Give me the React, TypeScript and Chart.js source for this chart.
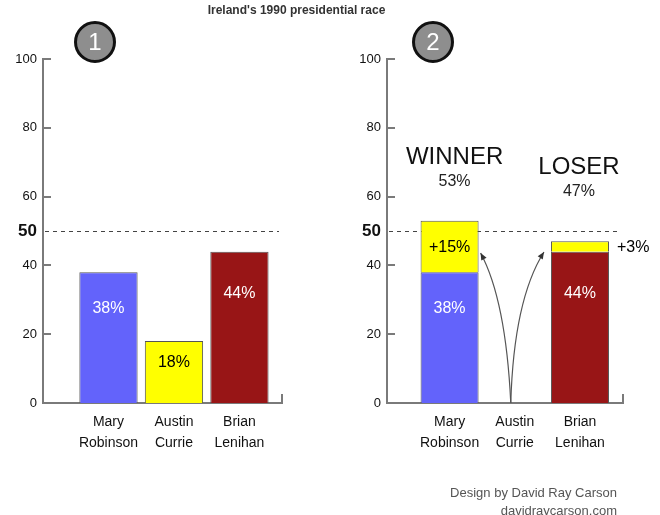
import React, { useEffect, useRef } from 'react';
import { Chart, registerables } from 'chart.js';

Chart.register(...registerables);

const candidates = ['Mary Robinson', 'Austin Currie', 'Brian Lenihan'];
const firstPreference = [38, 18, 44];
const finalBase = [38, null, 44];
const transferred = [15, null, 3];
const finalTotals = [53, null, 47];
const outcomeLabels = ['WINNER', null, 'LOSER'];
const yTicks = [0, 20, 40, 50, 60, 80, 100];
const threshold = 50;
const titleText = "Ireland's 1990 presidential race";
const creditLines = ['Design by David Ray Carson', 'davidraycarson.com'];

const BLUE = '#6363fb';
const YELLOW = '#ffff00';
const RED = '#981516';
const AXIS = '#7a7a7a';
const INK = '#111';
const FONT = '"Liberation Sans", Arial, Helvetica, sans-serif';
const barColors = [BLUE, YELLOW, RED];

function makeScales(xmin: number, xmax: number, stacked: boolean) {
  return {
    x: {
      type: 'linear' as const,
      min: xmin,
      max: xmax,
      offset: false,
      stacked,
      grid: { display: false, drawTicks: false, offset: false },
      border: { display: true, color: AXIS, width: 2 },
      afterBuildTicks: (s: any) => {
        s.ticks = candidates.map((_, i) => ({ value: i + 1 }));
      },
      ticks: {
        autoSkip: false,
        maxRotation: 0,
        padding: 9,
        color: INK,
        font: { family: FONT, size: 14, lineHeight: 1.5 },
        callback: (v: any) => {
          const name = candidates[Math.round(v) - 1];
          return name ? name.split(' ') : '';
        },
      },
      afterFit: (s: any) => {
        s.height = 112;
      },
    },
    y: {
      type: 'linear' as const,
      min: 0,
      max: 100,
      stacked,
      grid: { display: false, drawTicks: false },
      border: { display: true, color: AXIS, width: 2 },
      afterBuildTicks: (s: any) => {
        s.ticks = yTicks.map((v) => ({ value: v }));
      },
      ticks: {
        padding: 6,
        color: INK,
        font: (ctx: any) =>
          ctx.tick && ctx.tick.value === threshold
            ? { family: FONT, size: 17, weight: 'bold' }
            : { family: FONT, size: 13 },
      },
      afterFit: (s: any) => {
        s.width = 43;
      },
    },
  };
}

function drawFrame(chart: any) {
  const { ctx, chartArea, scales } = chart;
  const y = scales.y;
  ctx.save();
  ctx.strokeStyle = AXIS;
  ctx.lineWidth = 2;
  yTicks.forEach((v) => {
    if (v === 0 || v === threshold) return;
    const py = Math.round(y.getPixelForValue(v));
    ctx.beginPath();
    ctx.moveTo(chartArea.left - 1, py);
    ctx.lineTo(chartArea.left + 8, py);
    ctx.stroke();
  });
  ctx.beginPath();
  ctx.moveTo(chartArea.right, chartArea.bottom + 1);
  ctx.lineTo(chartArea.right, chartArea.bottom - 9);
  ctx.stroke();
  const py = Math.round(y.getPixelForValue(threshold)) + 0.5;
  ctx.strokeStyle = '#444';
  ctx.lineWidth = 1;
  ctx.setLineDash([4, 4]);
  ctx.beginPath();
  ctx.moveTo(chartArea.left + 2, py);
  ctx.lineTo(chartArea.right - 3, py);
  ctx.stroke();
  ctx.restore();
}

function text(ctx: any, s: string, x: number, y: number, size: number, color: string, align: string = 'center') {
  ctx.font = `${size}px ${FONT}`;
  ctx.fillStyle = color;
  ctx.textAlign = align;
  ctx.textBaseline = 'middle';
  ctx.fillText(s, x, y);
}

function arrow(ctx: any, p0: number[], c: number[], p2: number[]) {
  ctx.beginPath();
  ctx.moveTo(p0[0], p0[1]);
  ctx.quadraticCurveTo(c[0], c[1], p2[0], p2[1]);
  ctx.stroke();
  const ang = Math.atan2(p2[1] - c[1], p2[0] - c[0]);
  const len = 7;
  const w = 3;
  ctx.beginPath();
  ctx.moveTo(p2[0], p2[1]);
  ctx.lineTo(p2[0] - len * Math.cos(ang) + w * Math.sin(ang), p2[1] - len * Math.sin(ang) - w * Math.cos(ang));
  ctx.lineTo(p2[0] - len * Math.cos(ang) - w * Math.sin(ang), p2[1] - len * Math.sin(ang) + w * Math.cos(ang));
  ctx.closePath();
  ctx.fill();
}

// inside-bar label sits a bit below the bar top, deeper for taller bars
function insideLabelPixel(y: any, v: number) {
  const top = y.getPixelForValue(v);
  return top + Math.max(22, (y.getPixelForValue(0) - top) * 0.28);
}

const firstPlugin = {
  id: 'firstAnnotations',
  beforeDatasetsDraw: (chart: any) => drawFrame(chart),
  afterDatasetsDraw: (chart: any) => {
    const { ctx, scales } = chart;
    const meta = chart.getDatasetMeta(0);
    ctx.save();
    meta.data.forEach((bar: any, i: number) => {
      const v = firstPreference[i];
      text(ctx, `${v}%`, bar.x, insideLabelPixel(scales.y, v), 16, barColors[i] === YELLOW ? '#000' : '#fff');
    });
    ctx.restore();
  },
};

const finalPlugin = {
  id: 'finalAnnotations',
  beforeDatasetsDraw: (chart: any) => drawFrame(chart),
  afterDatasetsDraw: (chart: any) => {
    const { ctx, scales } = chart;
    const y = scales.y;
    const x = scales.x;
    const baseMeta = chart.getDatasetMeta(0);
    const addMeta = chart.getDatasetMeta(1);
    ctx.save();
    baseMeta.data.forEach((bar: any, i: number) => {
      const v = finalBase[i];
      if (v == null) return;
      text(ctx, `${v}%`, bar.x, insideLabelPixel(y, v), 16, '#fff');
    });
    addMeta.data.forEach((bar: any, i: number) => {
      const v = transferred[i];
      if (v == null) return;
      const mid = (bar.y + bar.base) / 2;
      if (Math.abs(bar.base - bar.y) > 24) {
        text(ctx, `+${v}%`, bar.x, mid + 1, 16, '#000');
      } else {
        text(ctx, `+${v}%`, bar.x + bar.width / 2 + 8, mid + 1, 16, '#000', 'left');
      }
    });
    outcomeLabels.forEach((lab, i) => {
      if (!lab) return;
      const bar = baseMeta.data[i];
      const level = i === 0 ? 71.4 : 68.5;
      const cx = bar.x + (i === 0 ? 5 : -1);
      const cy = y.getPixelForValue(level);
      text(ctx, lab, cx, cy, 24, '#111');
      text(ctx, `${finalTotals[i]}%`, cx, cy + 24.5, 16, '#222');
    });
    const bx = x.getPixelForValue(2) - 4;
    const by = y.getPixelForValue(0);
    const left = addMeta.data[0];
    const right = addMeta.data[2];
    ctx.strokeStyle = '#555';
    ctx.fillStyle = '#333';
    ctx.lineWidth = 1.2;
    arrow(ctx, [bx, by], [bx - 5, y.getPixelForValue(30)], [left.x + left.width / 2 + 2, y.getPixelForValue(43.6)]);
    arrow(ctx, [bx, by], [bx + 3, y.getPixelForValue(30)], [right.x - right.width / 2 - 7, y.getPixelForValue(43.9)]);
    ctx.restore();
  },
};

const barStyle = {
  borderColor: '#555',
  borderWidth: 1,
  categoryPercentage: 1,
  barPercentage: 0.89,
};

export default function App() {
  const ref1 = useRef<HTMLCanvasElement>(null);
  const ref2 = useRef<HTMLCanvasElement>(null);

  useEffect(() => {
    const common = {
      responsive: false,
      animation: false as const,
      events: [] as any[],
      plugins: { legend: { display: false }, tooltip: { enabled: false } },
    };
    const c1 = new Chart(ref1.current as HTMLCanvasElement, {
      type: 'bar',
      data: {
        datasets: [
          {
            data: firstPreference.map((v, i) => ({ x: i + 1, y: v })),
            backgroundColor: barColors,
            ...barStyle,
          } as any,
        ],
      },
      options: {
        ...common,
        layout: { padding: { left: 0, top: 59, right: 378, bottom: 0 } },
        scales: makeScales(0, 3.65, false) as any,
      },
      plugins: [firstPlugin],
    });
    const c2 = new Chart(ref2.current as HTMLCanvasElement, {
      type: 'bar',
      data: {
        datasets: [
          {
            data: finalBase.map((v, i) => ({ x: i + 1, y: v })),
            backgroundColor: [BLUE, 'rgba(0,0,0,0)', RED],
            ...barStyle,
          } as any,
          {
            data: transferred.map((v, i) => ({ x: i + 1, y: v })),
            backgroundColor: YELLOW,
            ...barStyle,
          } as any,
        ],
      },
      options: {
        ...common,
        layout: { padding: { left: 344, top: 59, right: 37, bottom: 0 } },
        scales: makeScales(0.04, 3.66, true) as any,
      },
      plugins: [finalPlugin],
    });
    return () => {
      c1.destroy();
      c2.destroy();
    };
  }, []);

  const circle = (n: string, cx: number) => (
    <div
      style={{
        position: 'absolute',
        left: cx - 21,
        top: 42 - 21,
        width: 42,
        height: 42,
        boxSizing: 'border-box',
        borderRadius: '50%',
        border: '3px solid #111',
        background: '#8e8e8e',
        color: '#fff',
        fontSize: 24,
        lineHeight: '36px',
        textAlign: 'center',
        fontFamily: FONT,
      }}
    >
      {n}
    </div>
  );

  return (
    <div
      style={{
        position: 'absolute',
        left: 0,
        top: 0,
        width: 660,
        height: 515,
        background: '#fff',
        overflow: 'hidden',
        fontFamily: FONT,
      }}
    >
      <canvas ref={ref1} width={660} height={515} style={{ position: 'absolute', left: 0, top: 0 }} />
      <canvas ref={ref2} width={660} height={515} style={{ position: 'absolute', left: 0, top: 0 }} />
      <div
        style={{
          position: 'absolute',
          left: 0,
          top: 3,
          width: 593,
          textAlign: 'center',
          fontSize: 12,
          lineHeight: '14px',
          fontWeight: 'bold',
          color: '#333',
        }}
      >
        {titleText}
      </div>
      {circle('1', 95)}
      {circle('2', 433)}
      <div
        style={{
          position: 'absolute',
          right: 43,
          top: 484,
          textAlign: 'right',
          fontSize: 13,
          lineHeight: '17.5px',
          color: '#555',
        }}
      >
        {creditLines.map((l) => (
          <div key={l}>{l}</div>
        ))}
      </div>
    </div>
  );
}
